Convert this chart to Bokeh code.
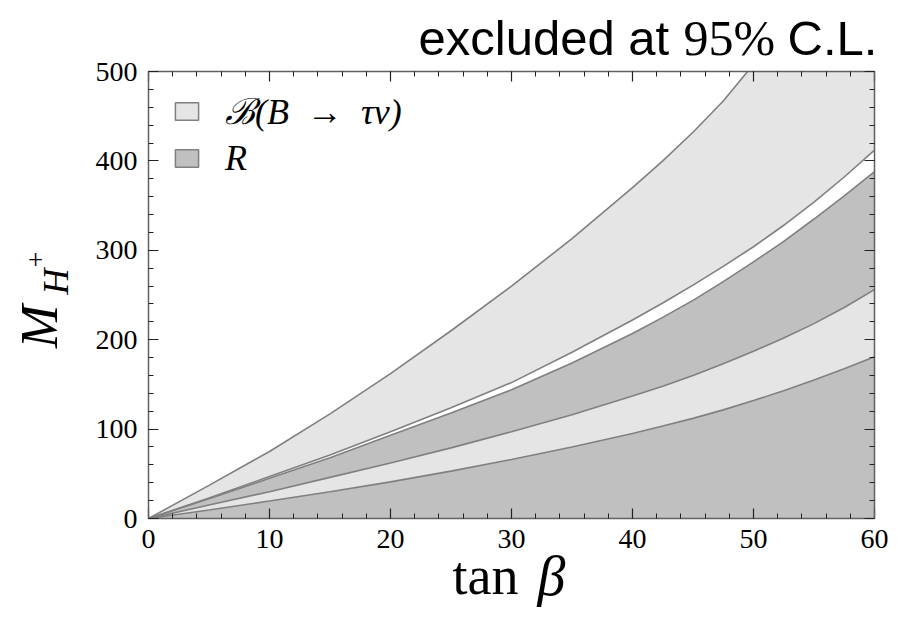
import math
from bokeh.plotting import figure
from bokeh.models import (LinearAxis, Legend, LegendItem, Range1d,
                          FixedTicker, ColumnDataSource)
from bokeh.core.properties import value
from bokeh.embed import file_html
from bokeh.resources import INLINE

# ---------------- data ----------------
tan_beta = [0, 5, 10, 15, 20, 25, 30, 35, 40, 42.5, 45, 47.5, 50, 52.5, 55, 57.5, 60]
# boundaries of the excluded regions, from top to bottom
br_top    = [0, 37, 75, 117, 162, 210, 260, 313, 370, 400, 432, 467, 508, 550, 597, 648, 703]  # B->tau nu band top
br_bottom = [0, 23, 47, 71, 97, 124, 152, 186, 222, 241, 261, 282, 304, 328, 354, 382, 412]    # B->tau nu band bottom
r_top     = [0, 22, 45, 68, 93, 118, 144, 174, 207, 225, 244, 265, 287, 310, 335, 361, 388]    # R band top
r_bottom  = [0, 15, 30, 46, 62, 79, 97, 116, 137, 148, 160, 173, 187, 202, 218, 236, 256]      # R band bottom
br_low    = [0, 9.5, 19.5, 30, 41, 53, 66, 80, 95, 103.5, 112, 121.5, 132, 143, 155, 167.5, 181]  # lower B->tau nu band bottom

x_ticks = [0, 10, 20, 30, 40, 50, 60]
y_ticks = [0, 100, 200, 300, 400, 500]
x_minor = list(range(0, 61, 2))
y_minor = list(range(0, 501, 20))
legend_labels = ["\u212c(B\u2002\u2192\u2002\u03c4\u03bd)", "R"]

LIGHT = "#e5e5e5"
DARK = "#c0c0c0"
EDGE = "#808080"
SERIF = "Liberation Serif"
SANS = "Liberation Sans"

src = ColumnDataSource(dict(x=tan_beta, a=br_top, b=br_bottom, c=r_top,
                            d=r_bottom, e=br_low, z=[0] * len(tan_beta)))

p = figure(width=910, height=621, x_range=Range1d(0, 60), y_range=Range1d(0, 500),
           output_backend="svg", toolbar_location=None,
           min_border_left=148, min_border_right=36, min_border_top=71,
           min_border_bottom=103)
p.grid.visible = False
p.outline_line_color = None
p.background_fill_color = "white"
p.border_fill_color = "white"

# filled regions
p.varea(x="x", y1="z", y2="e", source=src, fill_color=DARK)
p.varea(x="x", y1="e", y2="d", source=src, fill_color=LIGHT)
p.varea(x="x", y1="d", y2="c", source=src, fill_color=DARK)
p.varea(x="x", y1="b", y2="a", source=src, fill_color=LIGHT)
for col in ["a", "b", "c", "d", "e"]:
    p.line(x="x", y=col, source=src, line_color=EDGE, line_width=1.6)

# legend swatches: degenerate (zero-size) quads, visible only in the legend
q1 = p.quad(left="z", right="z", top="z", bottom="z", source=src,
            fill_color=LIGHT, line_color=EDGE, line_width=1.5)
q2 = p.quad(left="z", right="z", top="z", bottom="z", source=src,
            fill_color=DARK, line_color=EDGE, line_width=1.5)
legend = Legend(items=[LegendItem(label=legend_labels[0], renderers=[q1]),
                       LegendItem(label=legend_labels[1], renderers=[q2])],
                location=(15, 330), padding=9, spacing=2,
                glyph_width=29, glyph_height=22, label_height=36,
                label_standoff=24, label_text_font=SERIF,
                label_text_font_style="italic", label_text_font_size="36px",
                label_text_color="black",
                background_fill_alpha=0, border_line_alpha=0)
p.add_layout(legend)


def style(ax, ticks, minor, labels=True):
    ax.ticker = FixedTicker(ticks=ticks, minor_ticks=minor)
    ax.major_tick_in = 10
    ax.major_tick_out = 0
    ax.minor_tick_in = 5
    ax.minor_tick_out = 0
    ax.axis_line_color = "#606060"
    ax.axis_line_width = 1.5
    ax.major_tick_line_color = "#222222"
    ax.minor_tick_line_color = "#222222"
    ax.major_tick_line_width = 1.2
    ax.minor_tick_line_width = 1
    ax.major_label_text_font = SERIF
    ax.major_label_text_font_size = "28px"
    ax.major_label_text_color = "black" if labels else None
    ax.axis_label = None


style(p.xaxis[0], x_ticks, x_minor)
style(p.yaxis[0], y_ticks, y_minor)
p.xaxis[0].major_label_standoff = 11
p.yaxis[0].major_label_standoff = 11
top_ax = LinearAxis()
right_ax = LinearAxis()
style(top_ax, x_ticks, x_minor, labels=False)
style(right_ax, y_ticks, y_minor, labels=False)
p.add_layout(top_ax, "above")
p.add_layout(right_ax, "right")


def txt(x, y, s, dx, dy, size, font=SERIF, style="normal", angle=0.0,
        align="left"):
    p.text(x=[x], y=[y], text=[s], x_offset=dx, y_offset=dy, angle=angle,
           text_font=value(font), text_font_style=style,
           text_font_size=value(size), text_align=align,
           text_baseline="alphabetic", text_color="black", level="overlay")


# y-axis title  M_{H^+}
txt(0, 0, "M", -109, -192, "52px", style="italic", angle=math.pi / 2, align="center")
txt(0, 0, "H", -93, -237, "36px", style="italic", angle=math.pi / 2, align="center")
txt(0, 0, "+", -113, -259, "28px", angle=math.pi / 2, align="center")
# x-axis title  tan beta
txt(30, 0, "tan", -59, 57, "54px")
txt(30, 0, "\u03b2", 26, 57, "56px", style="italic")
# heading
txt(0, 500, "excluded at", 270, -34, "49px", font=SANS)
txt(0, 500, "95%", 535, -34, "50px")
txt(0, 500, "C.L.", 639, -34, "49px", font=SANS)

open("out.html", "w").write(file_html(p, INLINE))
